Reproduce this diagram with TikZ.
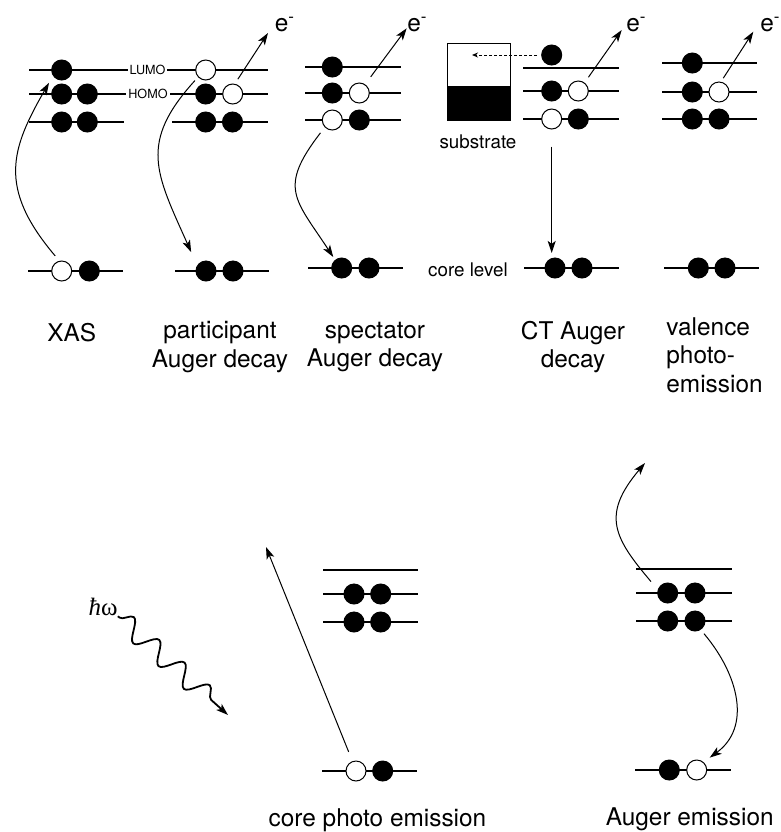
\documentclass[tikz,border=0pt]{standalone}
\usepackage{fontspec}
\setmainfont{TeX Gyre Heros}
\newfontfamily\photonfont{Liberation Serif}
\usetikzlibrary{arrows.meta}
\usetikzlibrary{decorations.pathmorphing}

\begin{document}
\begin{tikzpicture}[x=0.5pt,y=-0.5pt,
  lvl/.style={line width=0.55pt},
  core/.style={line width=1.1pt},
  elfull/.style={circle,draw,fill=black,line width=0.5pt,inner sep=0pt,minimum size=10pt},
  elhole/.style={circle,draw,fill=white,line width=0.5pt,inner sep=0pt,minimum size=10pt},
  arr/.style={-{Stealth[length=6pt,width=4pt,inset=1.5pt]},line width=0.5pt},
  lbl/.style={font=\fontsize{12.2}{14.2}\selectfont,inner sep=0pt,align=center},
  small/.style={font=\fontsize{9.4}{11}\selectfont,inner sep=0pt},
  tiny/.style={font=\fontsize{6.3}{7}\selectfont,fill=white,inner sep=1pt},
  elec/.style={font=\fontsize{12.2}{14}\selectfont,inner sep=0pt,anchor=base west}]
 \useasboundingbox (0,0) rectangle (781,832);

 % levels
 \draw[lvl] (29,70) -- (268,70);
 \draw[lvl] (29,94) -- (268,94);
 \draw[lvl] (29,122) -- (124,122);
 \draw[lvl] (172,122) -- (268,122);
 \draw[core] (28,271) -- (123,271);
 \draw[core] (175,271) -- (269,271);
 \foreach \y in {67,93,120} \draw[lvl] (305,\y) -- (401,\y);
 \draw[core] (308,268) -- (403,268);
 \foreach \y in {68,91,119} \draw[lvl] (523,\y) -- (619,\y);
 \draw[core] (524,268) -- (619,268);
 \foreach \y in {63,92,119} \draw[lvl] (662,\y) -- (757,\y);
 \draw[core] (664,268) -- (759,268);
 \foreach \y in {570,594,622} \draw[lvl] (323,\y) -- (418,\y);
 \draw[core] (322,771) -- (417,771);
 \foreach \y in {569,593,621} \draw[lvl] (636,\y) -- (732,\y);
 \draw[core] (635,770) -- (731,770);

 \node[tiny] (lumo) at (147.5,70) {LUMO};
 \node[tiny] (homo) at (148,94) {HOMO};

 % substrate
 \draw[line width=0.5pt] (447,43) rectangle (510,120);
 \fill (447,86) rectangle (510,120);
 \coordinate (subin) at (472,55);
 \node[small,anchor=base] (sub) at (478,148) {substrate};
 \node[small,anchor=base] (corelvl) at (468,276) {core level};

 % XAS
 \node[elfull] (xL) at (61.7,70) {};
 \node[elfull] (xH1) at (61.7,94) {};
 \node[elfull] (xH2) at (87.3,94) {};
 \node[elfull] (xD1) at (61.7,122) {};
 \node[elfull] (xD2) at (87.3,122) {};
 \node[elhole] (xC1) at (61.7,271) {};
 \node[elfull] (xC2) at (89.3,271) {};
 % participant
 \node[elhole] (pL) at (205.7,70) {};
 \node[elfull] (pH1) at (205.7,94) {};
 \node[elhole] (pH2) at (232.7,94) {};
 \node[elfull] (pD1) at (205.7,122) {};
 \node[elfull] (pD2) at (232.5,122) {};
 \node[elfull] (pC1) at (206,271) {};
 \node[elfull] (pC2) at (233,271) {};
 % spectator
 \node[elfull] (sL) at (332.3,67) {};
 \node[elfull] (sH1) at (332.3,93) {};
 \node[elhole] (sH2) at (359.3,93) {};
 \node[elhole] (sD1) at (332.3,120) {};
 \node[elfull] (sD2) at (359.3,120) {};
 \node[elfull] (sC1) at (341.7,268) {};
 \node[elfull] (sC2) at (369,268) {};
 % CT
 \node[elfull] (cX) at (551.7,55) {};
 \node[elfull] (cH1) at (551.7,91) {};
 \node[elhole] (cH2) at (578.3,91) {};
 \node[elhole] (cD1) at (551.7,119) {};
 \node[elfull] (cD2) at (578.3,119) {};
 \node[elfull] (cC1) at (555,268) {};
 \node[elfull] (cC2) at (582,268) {};
 % valence
 \node[elfull] (vL) at (692.3,63) {};
 \node[elfull] (vH1) at (692.3,92) {};
 \node[elhole] (vH2) at (719,92) {};
 \node[elfull] (vD1) at (692.3,119) {};
 \node[elfull] (vD2) at (719,119) {};
 \node[elfull] (vC1) at (698.3,268) {};
 \node[elfull] (vC2) at (725,268) {};
 % core photo emission
 \node[elfull] (bH1) at (354,594) {};
 \node[elfull] (bH2) at (380.7,594) {};
 \node[elfull] (bD1) at (354,622) {};
 \node[elfull] (bD2) at (380.7,622) {};
 \node[elhole] (bC1) at (356,771) {};
 \node[elfull] (bC2) at (382.7,771) {};
 % Auger emission
 \node[elfull] (aH1) at (667.7,593) {};
 \node[elfull] (aH2) at (695,593) {};
 \node[elfull] (aD1) at (667.7,621) {};
 \node[elfull] (aD2) at (695,621) {};
 \node[elfull] (aC1) at (669.3,770) {};
 \node[elhole] (aC2) at (696.7,770) {};

 % emitted electrons
 \coordinate (pe) at (268,33);
 \coordinate (se) at (406.7,28.3);
 \coordinate (ce) at (621.7,30);
 \coordinate (ve) at (753.3,31.7);
 \node[elec] (pelbl) at (274.5,31) {e\textsuperscript{-}};
 \node[elec] (selbl) at (407,31) {e\textsuperscript{-}};
 \node[elec] (celbl) at (626,31.5) {e\textsuperscript{-}};
 \node[elec] (velbl) at (760,31.5) {e\textsuperscript{-}};
 \draw[arr,shorten <=2.7pt] (pH2.78) -- (pe);
 \draw[arr,shorten <=4.6pt] (sH2.56) -- (se);
 \draw[arr,shorten <=3.3pt] (cH2.53) -- (ce);
 \draw[arr,shorten <=2.1pt] (vH2.79) -- (ve);

 % transitions
 \draw[arr,shorten <=3.2pt,shorten >=4pt] (xC1.103) .. controls +(-62,-73) and +(-42,73) .. (xL.214);
 \draw[arr,shorten <=2.3pt,shorten >=7.3pt] (pL.223) .. controls +(-60,66) and +(-41,-92) .. (pC1.148);
 \draw[arr,shorten <=3.5pt,shorten >=1.7pt] (sD1.224) .. controls +(-47,61) and +(-40,-61) .. (sC1.129);
 \draw[arr,shorten <=8.5pt,shorten >=2.3pt] (cD1.south) -- (cD1.south |- cC1.north);
 \draw[arr,dash pattern=on 1.5pt off 1pt,-{Stealth[length=3pt,width=2.5pt]},shorten <=2pt] (cX.west) -- (subin);

 % photon
 \node[font=\photonfont\fontsize{12.5}{14}\selectfont,inner sep=0pt] (hw) at (103,607) {{\itshape ħ}ω};
 \coordinate (hwend) at (228,715);
 \draw[line width=0.9pt,decorate,decoration={snake,amplitude=5pt,segment length=17pt,pre length=1pt,post length=5pt},-{Stealth[length=6pt,width=4pt,inset=1.5pt]}] (hw.south east) -- (hwend);

 \coordinate (cpe) at (266,547);
 \draw[arr,shorten <=5pt] (bC1.110) -- (cpe);
 \coordinate (aup) at (645,463);
 \draw[arr,shorten <=5.2pt] (aH1.161) .. controls +(-44,-52) and +(-44,52) .. (aup);
 \draw[arr,shorten <=2.5pt,shorten >=3.8pt] (aD2.303) .. controls +(38,45) and +(48,-35) .. (aC2.49);

 % captions
 \node[lbl] (xas) at (71.7,333) {XAS};
 \node[lbl] (part) at (220,347) {participant\\Auger decay};
 \node[lbl] (spec) at (375,347) {spectator\\Auger decay};
 \node[lbl] (ctaug) at (573,347) {CT Auger\\decay};
 \node[lbl,align=left,anchor=west] (val) at (666,355) {valence\\photo-\\emission};
 \node[lbl,anchor=base] (cpelbl) at (377.5,826.5) {core photo emission};
 \node[lbl,anchor=base] (auglbl) at (689.7,825.5) {Auger emission};
\end{tikzpicture}
\end{document}
